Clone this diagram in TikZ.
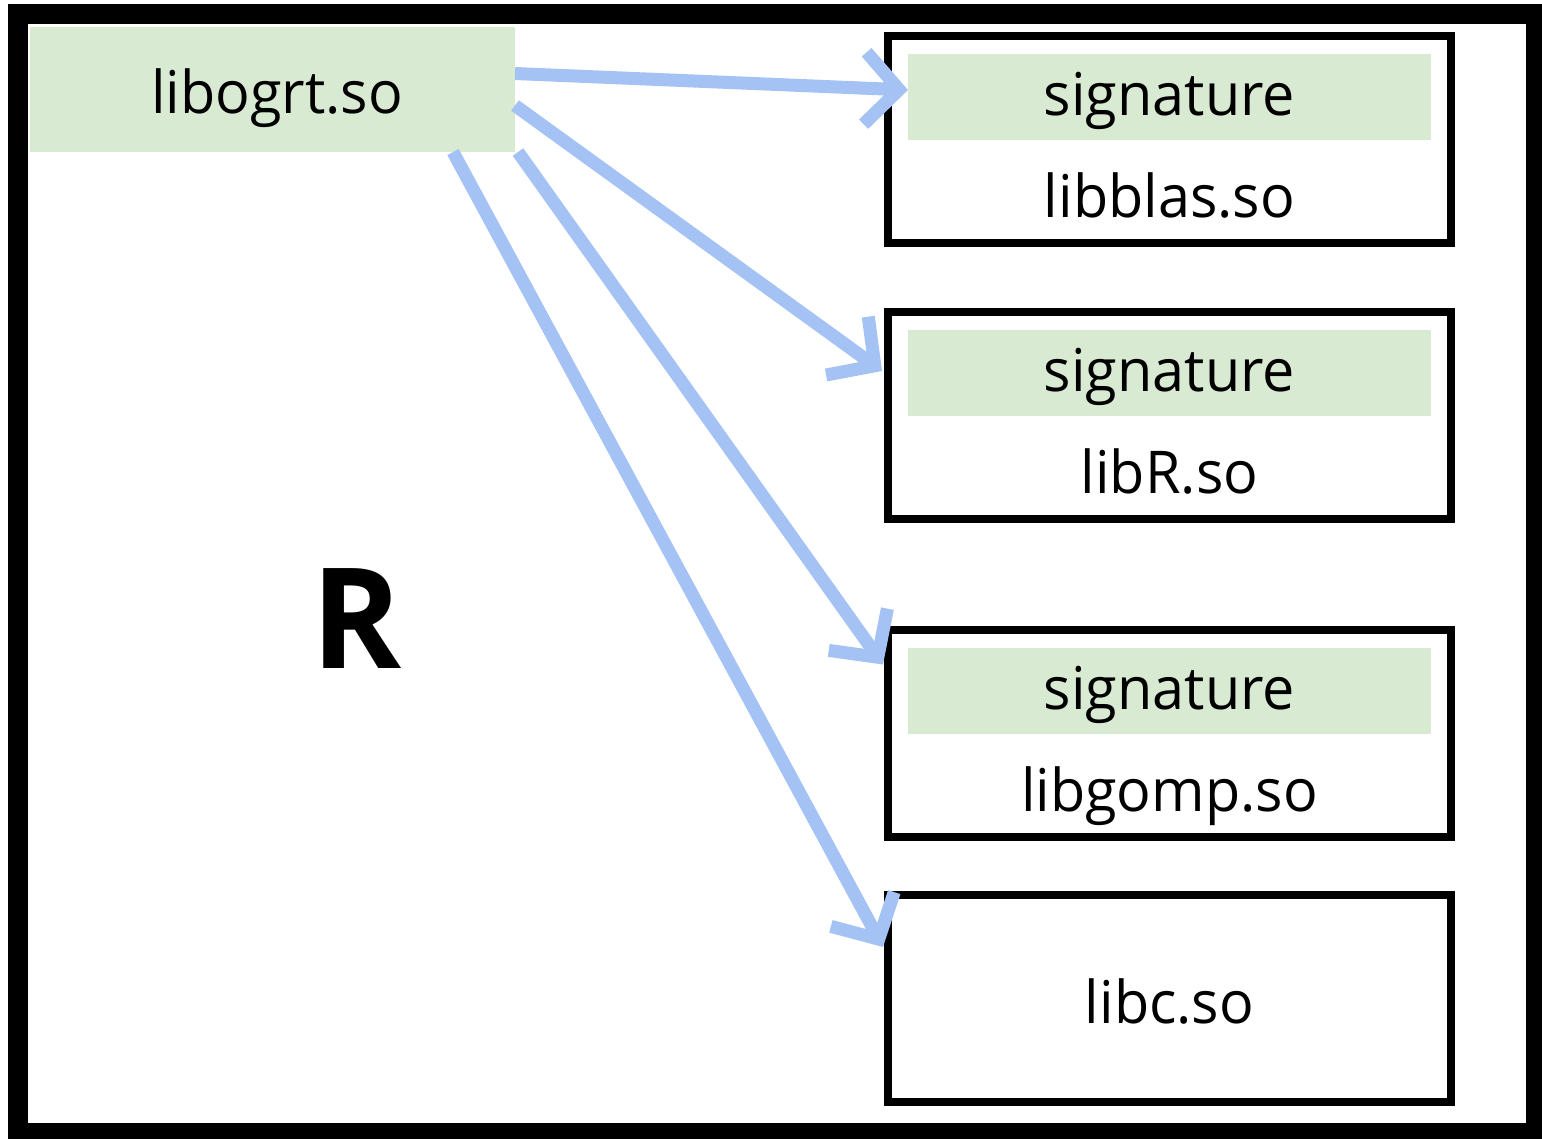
\documentclass[tikz,border=0pt]{standalone}
\usepackage{fontspec}
\setmainfont{Open Sans}[FakeStretch=0.975]
\usetikzlibrary{arrows.meta, calc, positioning}

\definecolor{siggreen}{HTML}{D9EAD3}
\definecolor{linkblue}{HTML}{A4C2F4}

\tikzset{
	libbox/.style={draw, line width=8pt, inner sep=0pt, outer sep=0pt,
		minimum width=563pt, minimum height=207pt},
	sigbar/.style={fill=siggreen, inner sep=0pt, outer sep=0pt,
		minimum width=523pt, minimum height=86pt},
	link/.style={linkblue, line width=13pt,
		-{Straight Barb[sharp, length=34pt, width=72pt]}}
}

\begin{document}
\begin{tikzpicture}[x=1pt, y=-1pt, font=\fontsize{59}{70}\selectfont]
		\def\bx{1169.5};

		\useasboundingbox (0,0) rectangle (1542,1138);
		\draw[line width=20pt] (18,14) rectangle (1536,1133);

		% the calling library
		\node[fill=siggreen, inner sep=0pt, outer sep=0pt, minimum width=485pt, minimum height=125pt] (ogrt) at (272.5,89.5) {};
		\node[anchor=base] (ogrtname) at (277,113) {libogrt.so};

		\node[anchor=base, font=\fontsize{140}{160}\selectfont\bfseries] (rname) at (357,668) {R};

		% signed libraries
		\foreach \n/\y/\lib in {blas/139/libblas.so, libR/415/libR.so, gomp/733/libgomp.so}
		{
			\node[libbox] (\n) at (\bx,\y) {};
			\node[sigbar] (sig\n) at (\bx,\y - 42) {};
			\node[anchor=base] (sigtxt\n) at (\bx,\y - 24) {signature};
			\node[anchor=base] (name\n) at (\bx,\y + 78) {\lib};
		}

		\node[libbox] (libc) at (\bx,998.5) {};
		\node[anchor=base] (namelibc) at (\bx,1023) {libc.so};

		\draw[link] ($ (ogrt.east) + (0,-16) $) -- ($ (sigblas.west) + (0,-7) $);
		\draw[link] ($ (ogrt.east) + (0,16) $) -- ($ (siglibR.west) + (-26,-2) $);
		\draw[link] ($ (ogrt.south east) + (3,0) $) -- ($ (gomp.north west) + (-5,35) $);
		\draw[link] ($ (ogrt.south east) + (-62,0) $) -- ($ (libc.north west) + (-5,52) $);
	\end{tikzpicture}
\end{document}
